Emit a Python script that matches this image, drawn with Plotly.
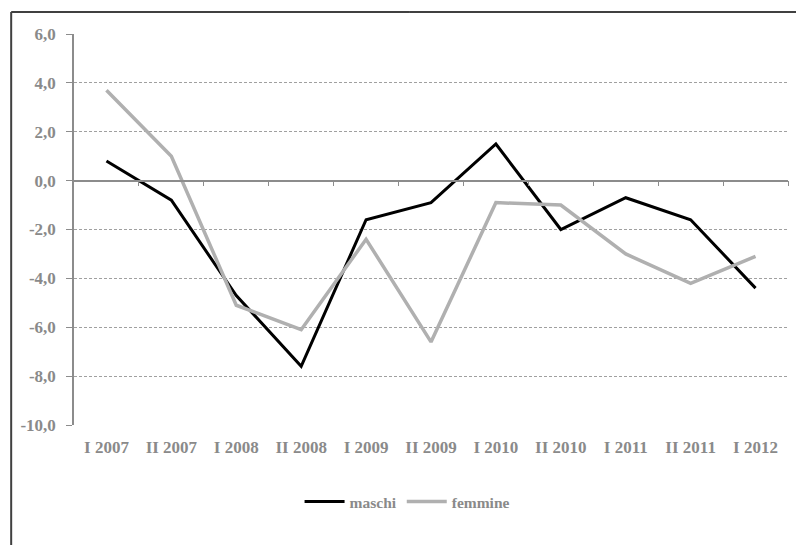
import plotly.graph_objects as go

periods = ['I 2007', 'II 2007', 'I 2008', 'II 2008', 'I 2009', 'II 2009',
           'I 2010', 'II 2010', 'I 2011', 'II 2011', 'I 2012']
maschi = [0.8, -0.8, -4.7, -7.6, -1.6, -0.9, 1.5, -2.0, -0.7, -1.6, -4.4]
femmine = [3.7, 1.0, -5.1, -6.1, -2.4, -6.6, -0.9, -1.0, -3.0, -4.2, -3.1]
y_ticks = [6, 4, 2, 0, -2, -4, -6, -8, -10]

# page has an 8px body margin, so the figure is a bit smaller than the window
W, H = 796, 537
ml, mr, mt, mb = 64, 16, 26, 120
pw, ph = W - ml - mr, H - mt - mb

FONT = "Liberation Serif"
GREY = "#8a8a8a"
AXIS = "#8c8c8c"
BORDER = "#404040"

x = list(range(len(periods)))


def px(v):
    return (v - ml) / pw


def py(v):
    return 1 - (v - mt) / ph


fig = go.Figure()
fig.add_trace(go.Scatter(x=x, y=maschi, name="maschi", mode="lines",
                         line=dict(color="black", width=3)))
fig.add_trace(go.Scatter(x=x, y=femmine, name="femmine", mode="lines",
                         line=dict(color="#b0b0b0", width=3.5)))
# invisible trace so the category axis crossing at zero gets drawn
fig.add_trace(go.Scatter(x=[x[0]], y=[0], xaxis="x2", mode="markers",
                         marker=dict(opacity=0), showlegend=False, hoverinfo="skip"))

fig.update_layout(
    width=W, height=H,
    margin=dict(l=ml, r=mr, t=mt, b=mb),
    paper_bgcolor="white", plot_bgcolor="white",
    font=dict(family=FONT, size=15, color=GREY),
    xaxis=dict(range=[-0.5, len(periods) - 0.5], tickvals=x, ticktext=periods,
               showgrid=False, zeroline=False, showline=False, ticks="",
               ticklabelstandoff=10,
               tickfont=dict(family=FONT, size=17, color=GREY, weight="bold")),
    xaxis2=dict(overlaying="x", anchor="free", position=10 / 16,
                range=[-0.5, len(periods) - 0.5],
                tickvals=[i + 0.5 for i in x], showticklabels=False,
                ticks="outside", ticklen=5, tickcolor=AXIS,
                showline=True, linecolor=AXIS, linewidth=1.5,
                showgrid=False, zeroline=False),
    yaxis=dict(range=[-10, 6], tickvals=y_ticks,
               ticktext=[f"{v:.1f}".replace(".", ",") for v in y_ticks],
               showgrid=True, gridcolor="#a0a0a0", griddash="3px,2px", gridwidth=1,
               zeroline=False, showline=True, linecolor=AXIS, linewidth=1.5,
               ticks="outside", ticklen=6, tickcolor=AXIS, ticklabelstandoff=7,
               tickfont=dict(family=FONT, size=17, color=GREY, weight="bold")),
    legend=dict(orientation="h", x=px(398), xanchor="center",
                y=py(494), yanchor="middle",
                font=dict(family=FONT, size=15.5, color=GREY, weight="bold"),
                itemwidth=40, traceorder="normal"),
    # chart frame (top and left edges; the rest falls outside the window)
    shapes=[
        dict(type="line", xref="paper", yref="paper",
             x0=px(1), x1=px(400), y0=py(4), y1=py(4),
             line=dict(color=BORDER, width=2)),
        dict(type="line", xref="paper", yref="paper",
             x0=px(400), x1=px(W - 1), y0=py(4), y1=py(4),
             line=dict(color=BORDER, width=2)),
        dict(type="line", xref="paper", yref="paper",
             x0=px(1), x1=px(1), y0=py(4), y1=py(H),
             line=dict(color=BORDER, width=2)),
    ],
)

fig.write_html("out.html")
